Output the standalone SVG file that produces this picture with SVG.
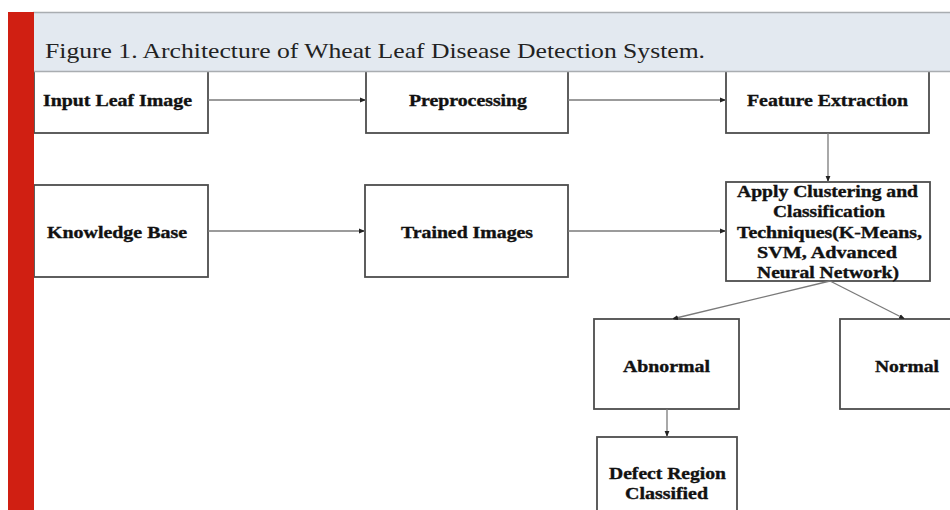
<svg xmlns="http://www.w3.org/2000/svg" width="950" height="510" viewBox="0 0 950 510">
<style>
.box{fill:#ffffff;stroke:#4d4d4d;stroke-width:1.8}
.lbl{font-family:"Liberation Serif","Times New Roman",serif;font-weight:bold;font-size:16px;fill:#111111;stroke:#111111;stroke-width:0.35}
.con{stroke:#7a7a7a;stroke-width:1.3;fill:none;marker-end:url(#ah)}
.cap{font-family:"Liberation Serif","Times New Roman",serif;font-size:21px;fill:#222222}
</style>
<defs>
<marker id="ah" viewBox="0 0 10 10" refX="10" refY="5" markerWidth="6" markerHeight="6" markerUnits="userSpaceOnUse" orient="auto">
<path d="M0,1 L10,5 L0,9 z" fill="#222222"/>
</marker>
</defs>
<rect x="0" y="0" width="950" height="510" fill="#ffffff"/>

<g id="node-input">
<rect class="box" x="34" y="60" width="174" height="73"/>
<text class="lbl" x="43" y="106" textLength="149" lengthAdjust="spacingAndGlyphs">Input Leaf Image</text>
</g>
<g id="node-preprocessing">
<rect class="box" x="366" y="60" width="202" height="73"/>
<text class="lbl" x="409" y="106" textLength="118" lengthAdjust="spacingAndGlyphs">Preprocessing</text>
</g>
<g id="node-feature">
<rect class="box" x="726" y="60" width="203" height="73"/>
<text class="lbl" x="747" y="106" textLength="161" lengthAdjust="spacingAndGlyphs">Feature Extraction</text>
</g>
<g id="node-knowledge">
<rect class="box" x="34" y="185" width="174" height="92"/>
<text class="lbl" x="47" y="238" textLength="140" lengthAdjust="spacingAndGlyphs">Knowledge Base</text>
</g>
<g id="node-trained">
<rect class="box" x="365" y="185" width="203" height="92"/>
<text class="lbl" x="401" y="238" textLength="132" lengthAdjust="spacingAndGlyphs">Trained Images</text>
</g>
<g id="node-apply">
<rect class="box" x="726" y="182" width="204" height="99"/>
<text class="lbl" x="737" y="197" textLength="181" lengthAdjust="spacingAndGlyphs">Apply Clustering and</text>
<text class="lbl" x="773" y="217" textLength="112" lengthAdjust="spacingAndGlyphs">Classification</text>
<text class="lbl" x="737" y="238" textLength="185" lengthAdjust="spacingAndGlyphs">Techniques(K-Means,</text>
<text class="lbl" x="757" y="258" textLength="140" lengthAdjust="spacingAndGlyphs">SVM, Advanced</text>
<text class="lbl" x="757" y="278" textLength="142" lengthAdjust="spacingAndGlyphs">Neural Network)</text>
</g>
<g id="node-abnormal">
<rect class="box" x="594" y="319" width="145" height="90"/>
<text class="lbl" x="623" y="372" textLength="87" lengthAdjust="spacingAndGlyphs">Abnormal</text>
</g>
<g id="node-normal">
<rect class="box" x="840" y="319" width="115" height="90"/>
<text class="lbl" x="875" y="372" textLength="64" lengthAdjust="spacingAndGlyphs">Normal</text>
</g>
<g id="node-defect">
<rect class="box" x="597" y="437" width="140" height="90"/>
<text class="lbl" x="609" y="479" textLength="117" lengthAdjust="spacingAndGlyphs">Defect Region</text>
<text class="lbl" x="625" y="499" textLength="83" lengthAdjust="spacingAndGlyphs">Classified</text>
</g>

<g id="connectors">
<line class="con" x1="208" y1="100" x2="366" y2="100"/>
<line class="con" x1="568" y1="100" x2="726" y2="100"/>
<line class="con" x1="828" y1="133" x2="828" y2="182"/>
<line class="con" x1="208" y1="231" x2="365" y2="231"/>
<line class="con" x1="568" y1="231" x2="726" y2="231"/>
<line class="con" x1="830" y1="281" x2="672" y2="319"/>
<line class="con" x1="830" y1="281" x2="905" y2="319"/>
<line class="con" x1="667" y1="409" x2="667" y2="437"/>
</g>

<g id="header">
<rect x="33" y="12" width="920" height="60" fill="#e3e9f0"/>
<line x1="33" y1="12.5" x2="950" y2="12.5" stroke="#a9adb1" stroke-width="1.6"/>
<line x1="33" y1="71.5" x2="950" y2="71.5" stroke="#a9adb1" stroke-width="1.6"/>
<text class="cap" x="45" y="58" textLength="660" lengthAdjust="spacingAndGlyphs">Figure 1. Architecture of Wheat Leaf Disease Detection System.</text>
</g>
<rect id="red-bar" x="8" y="12" width="26" height="498" fill="#d01f12"/>
</svg>
